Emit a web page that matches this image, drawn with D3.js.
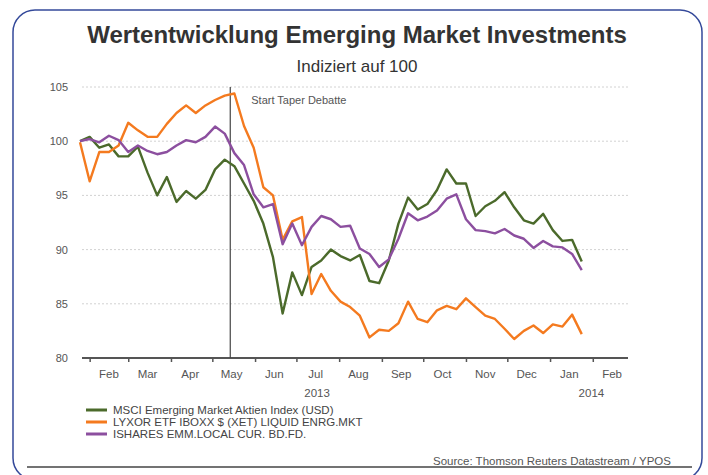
<!DOCTYPE html>
<html>
<head>
<meta charset="utf-8">
<script src="https://cdn.jsdelivr.net/npm/d3@7"></script>
<style>
  body { margin: 0; background: #fff; }
  svg { display: block; font-family: "Liberation Sans", Arial, sans-serif; }
</style>
</head>
<body>
<div id="container"></div>
<script>
/* CONSTANTS AND GLOBALS */
const width = 708, height = 475;

// weekly closes, first week = 25 Jan 2013
const startDate = new Date(2013, 0, 25);
const msci = [100.0, 100.4, 99.4, 99.7, 98.6, 98.6, 99.5, 97.1, 95.0, 96.7,
  94.4, 95.4, 94.7, 95.5, 97.4, 98.3, 97.7, 96.1, 94.5, 92.4,
  89.3, 84.1, 87.9, 85.8, 88.4, 89.0, 90.0, 89.4, 89.0, 89.5,
  87.1, 86.9, 89.0, 92.4, 94.8, 93.7, 94.2, 95.5, 97.4, 96.1,
  96.1, 93.1, 94.0, 94.5, 95.3, 93.9, 92.7, 92.4, 93.3, 91.8,
  90.8, 90.9, 88.9];
const lyxor = [99.9, 96.3, 99.0, 99.0, 99.6, 101.7, 101.0, 100.4, 100.4, 101.6,
  102.6, 103.3, 102.6, 103.3, 103.8, 104.2, 104.4, 101.4, 99.4, 95.75,
  95.0, 90.9, 92.6, 93.0, 85.9, 87.75, 86.2, 85.2, 84.7, 83.9,
  81.9, 82.6, 82.5, 83.2, 85.2, 83.6, 83.3, 84.4, 84.8, 84.5,
  85.5, 84.7, 83.9, 83.6, 82.7, 81.75, 82.5, 83.0, 82.3, 83.1,
  82.9, 84.0, 82.2];
const ishares = [100.0, 100.2, 99.9, 100.5, 100.1, 99.0, 99.6, 99.1, 98.8, 99.0,
  99.6, 100.1, 99.9, 100.4, 101.35, 100.7, 98.9, 97.8, 95.1, 93.9,
  94.2, 90.5, 92.4, 90.4, 92.1, 93.1, 92.8, 92.1, 92.2, 90.1,
  89.6, 88.4, 89.1, 91.0, 93.35, 92.7, 93.05, 93.6, 94.7, 95.1,
  92.8, 91.8, 91.7, 91.5, 91.9, 91.3, 91.0, 90.15, 90.8, 90.3,
  90.2, 89.6, 88.1];

const seriesNames = ["MSCI Emerging Market Aktien Index (USD)",
  "LYXOR ETF IBOXX $ (XET) LIQUID ENRG.MKT",
  "ISHARES EMM.LOCAL CUR. BD.FD."];
const seriesColors = ["#4b6a2b", "#f47a1f", "#8c4f9f"];
const yTicks = [80, 85, 90, 95, 100, 105];
const monthLabels = ["Feb", "Mar", "Apr", "May", "Jun", "Jul", "Aug", "Sep", "Oct", "Nov", "Dec", "Jan", "Feb"];
const yearLabels = [{ label: "2013", date: new Date(2013, 6, 16) }, { label: "2014", date: new Date(2014, 0, 31) }];
const taperDate = new Date(2013, 4, 14);

const dates = msci.map((d, i) => d3.timeDay.offset(startDate, 7 * i));
const series = [msci, lyxor, ishares].map((vals, k) => ({
  name: seriesNames[k], color: seriesColors[k],
  values: vals.map((v, i) => ({ date: dates[i], value: v }))
}));

/* SCALES */
const xScale = d3.scaleTime()
  .domain([startDate, new Date(2014, 1, 28)])
  .range([80, 630]);
const yScale = d3.scaleLinear()
  .domain([80, 105])
  .range([358, 87]);

const svg = d3.select("#container").append("svg")
  .attr("width", width)
  .attr("height", height);

// frame
svg.append("rect")
  .attr("x", 13).attr("y", 10)
  .attr("width", 689).attr("height", 470)
  .attr("rx", 22)
  .attr("fill", "#fff")
  .attr("stroke", "#34499a")
  .attr("stroke-width", 1.5);

// titles
svg.append("text")
  .attr("x", 357).attr("y", 43)
  .attr("text-anchor", "middle")
  .attr("font-size", 24).attr("font-weight", "bold")
  .attr("fill", "#333")
  .text("Wertentwicklung Emerging Market Investments");
svg.append("text")
  .attr("x", 357).attr("y", 72)
  .attr("text-anchor", "middle")
  .attr("font-size", 17)
  .attr("fill", "#333")
  .text("Indiziert auf 100");

// gridlines (dotted)
svg.append("g")
  .selectAll("line")
  .data(yTicks.filter(d => d > 80))
  .join("line")
  .attr("x1", 82).attr("x2", 630)
  .attr("y1", d => yScale(d)).attr("y2", d => yScale(d))
  .attr("stroke", "#d2d2d2")
  .attr("stroke-dasharray", "2,2");

// y labels
svg.append("g")
  .selectAll("text")
  .data(yTicks)
  .join("text")
  .attr("x", 68).attr("y", d => yScale(d) + 4)
  .attr("text-anchor", "end")
  .attr("font-size", 11)
  .attr("fill", "#555")
  .text(d => d);

// x axis
const xAxis = d3.axisBottom(xScale)
  .ticks(d3.timeMonth.every(1))
  .tickSize(4)
  .tickFormat("");
const gx = svg.append("g")
  .attr("transform", `translate(0,${yScale(80)})`)
  .call(xAxis);
gx.select(".domain").attr("d", "M82,0H628").attr("stroke", "#555").attr("stroke-width", 2);
gx.selectAll(".tick line").attr("stroke", "#555").attr("stroke-width", 1.5);

const monthMids = d3.timeMonth.range(new Date(2013, 1, 1), new Date(2014, 2, 1))
  .map(d => d3.timeDay.offset(d, 14));
svg.append("g")
  .selectAll("text")
  .data(monthMids)
  .join("text")
  .attr("x", d => xScale(d)).attr("y", 378)
  .attr("text-anchor", "middle")
  .attr("font-size", 11.5)
  .attr("fill", "#555")
  .text((d, i) => monthLabels[i]);
svg.append("g")
  .selectAll("text")
  .data(yearLabels)
  .join("text")
  .attr("x", d => xScale(d.date)).attr("y", 397)
  .attr("text-anchor", "middle")
  .attr("font-size", 11.5)
  .attr("fill", "#555")
  .text(d => d.label);

// taper marker
svg.append("line")
  .attr("x1", xScale(taperDate)).attr("x2", xScale(taperDate))
  .attr("y1", yScale(105)).attr("y2", yScale(80))
  .attr("stroke", "#444").attr("stroke-width", 1.2);
svg.append("text")
  .attr("x", xScale(taperDate) + 21).attr("y", 104)
  .attr("font-size", 11)
  .attr("fill", "#555")
  .text("Start Taper Debatte");

// lines
const line = d3.line()
  .x(d => xScale(d.date))
  .y(d => yScale(d.value));
svg.append("g")
  .selectAll("path")
  .data(series)
  .join("path")
  .attr("d", d => line(d.values))
  .attr("fill", "none")
  .attr("stroke", d => d.color)
  .attr("stroke-width", 2.4)
  .attr("stroke-linejoin", "round");

// legend
const legend = svg.append("g")
  .selectAll("g")
  .data(series)
  .join("g")
  .attr("transform", (d, i) => `translate(86,${410 + i * 12})`);
legend.append("line")
  .attr("x1", 0).attr("x2", 21)
  .attr("stroke", d => d.color)
  .attr("stroke-width", 3);
legend.append("text")
  .attr("x", 27).attr("y", 4)
  .attr("font-size", 11.5)
  .attr("fill", "#444")
  .text(d => d.name);

// source
svg.append("line")
  .attr("x1", 27).attr("x2", 692)
  .attr("y1", 467).attr("y2", 467)
  .attr("stroke", "#444").attr("stroke-width", 1.5);
svg.append("text")
  .attr("x", 671).attr("y", 465)
  .attr("text-anchor", "end")
  .attr("font-size", 11.5)
  .attr("fill", "#555")
  .text("Source: Thomson Reuters Datastream / YPOS");
</script>
</body>
</html>
